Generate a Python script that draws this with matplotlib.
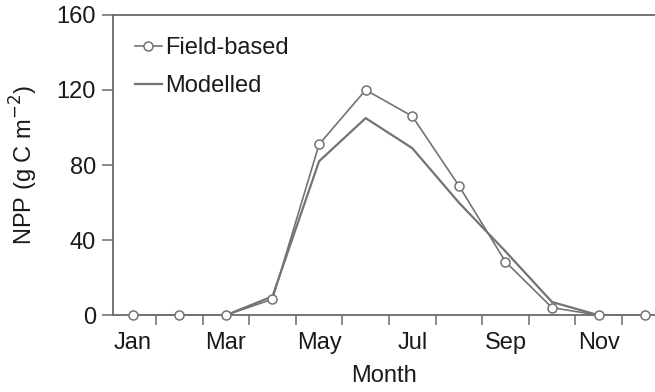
import numpy as np
import matplotlib
matplotlib.use("Agg")
import matplotlib.pyplot as plt

# monthly NPP values (g C m-2)
months = np.arange(1, 13)
month_labels = ['Jan', 'Mar', 'May', 'Jul', 'Sep', 'Nov']
field_based = [0, 0, 0, 8.5, 91, 120, 106, 69, 28.5, 4, 0, 0]
modelled = [0, 0, 0, 10, 82, 105, 89, 60, 34, 7, 0, 0]
y_ticks = [0, 40, 80, 120, 160]

plt.rcParams['font.family'] = ['Liberation Sans', 'DejaVu Sans']
axis_col = '#6a6a6a'
line_col = '#737373'
text_col = '#1a1a1a'

fig = plt.figure(figsize=(6.55, 3.92), dpi=100)
ax = fig.add_axes([0.172, 0.196, 0.828, 0.766])

ax.plot(months, field_based, color=line_col, lw=1.2, marker='o', ms=6.5,
        mfc='white', mec=line_col, mew=1.1, label='Field-based', zorder=4,
        clip_on=False)
ax.plot(months, modelled, color=line_col, lw=1.6, label='Modelled', zorder=2)

ax.set_xlim(0.57, 12.21)
ax.set_ylim(0, 160)

# ticks at month boundaries, labels at every other month centre
ax.set_xticks(np.arange(1.5, 12, 1))
ax.set_xticklabels([])
ax.set_xticks(np.arange(1, 13, 2), minor=True)
ax.set_xticklabels(month_labels, minor=True)
ax.tick_params(axis='x', which='major', direction='out', length=7, width=1.1, color=axis_col)
ax.tick_params(axis='x', which='minor', length=0, pad=12, labelsize=17, labelcolor=text_col)
ax.set_yticks(y_ticks)
ax.tick_params(axis='y', direction='out', length=8, width=1.1, color=axis_col,
               labelsize=17, labelcolor=text_col, pad=4)

for side in ['left', 'bottom', 'top']:
    ax.spines[side].set_color(axis_col)
    ax.spines[side].set_linewidth(1.3)
ax.spines['right'].set_visible(False)

ax.set_xlabel('Month', fontsize=17, color=text_col, labelpad=8)
ax.set_ylabel('NPP (g C m$^{-2}$)', fontsize=17, color=text_col, labelpad=12)

leg = ax.legend(loc='upper left', frameon=False, fontsize=17, handlelength=1.15,
                handletextpad=0.15, labelspacing=0.65, numpoints=1,
                borderaxespad=0.3, bbox_to_anchor=(0.01, 0.98))
for t in leg.get_texts():
    t.set_color(text_col)

fig.savefig('out.png', dpi=100)
